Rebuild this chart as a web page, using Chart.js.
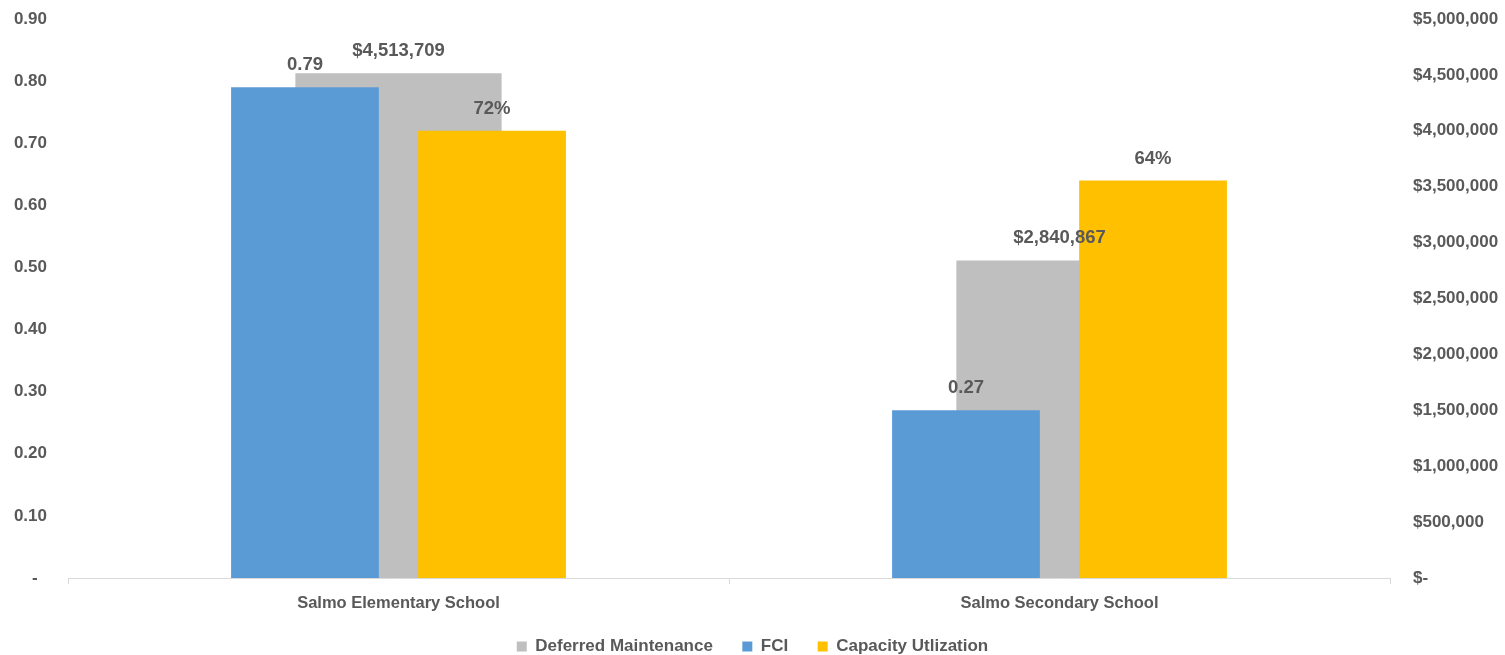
<html lang="en">
<head>
  <meta charset="UTF-8" />
  <title>Salmo Schools - FCI, Deferred Maintenance, Capacity</title>
  <script src="https://cdn.jsdelivr.net/npm/chart.js"></script>
  <style>
    html, body { margin: 0; padding: 0; background: #ffffff; }
    .wrap { width: 1505px; height: 655px; }
  </style>
</head>
<body>
<div class="wrap"><canvas id="chart" width="1505" height="655"></canvas></div>

<script>
  const schools = ['Salmo Elementary School', 'Salmo Secondary School'];
  const deferredMaintenance = [4513709, 2840867];
  const fci = [0.79, 0.27];
  const capacityUtilization = [0.72, 0.64];

  const textColor = '#595959';
  const fontFamily = '"Liberation Sans", Arial, sans-serif';

  const money = v => '$' + Math.round(v).toLocaleString('en-US');

  // labels above every bar, drawn on top of all bars
  const valueLabels = {
    id: 'valueLabels',
    afterDatasetsDraw(chart) {
      const ctx = chart.ctx;
      ctx.save();
      ctx.font = 'bold 18.5px ' + fontFamily;
      ctx.fillStyle = textColor;
      ctx.textAlign = 'center';
      ctx.textBaseline = 'middle';
      chart.data.datasets.forEach((ds, i) => {
        chart.getDatasetMeta(i).data.forEach((bar, j) => {
          ctx.fillText(ds.fmt(ds.data[j]), bar.x, bar.y - 22);
        });
      });
      ctx.restore();
    }
  };

  // vertical axes: fixed width, no extra top/bottom padding from tick padding
  const fitY = width => s => {
    s.width = width;
    s.paddingTop = 0;
    s.paddingBottom = 0;
  };

  new Chart(document.getElementById('chart'), {
    type: 'bar',
    data: {
      labels: schools,
      datasets: [
        {
          label: 'Deferred Maintenance',
          data: deferredMaintenance,
          backgroundColor: '#BFBFBF',
          yAxisID: 'y2',
          order: 1,
          grouped: false,
          categoryPercentage: 1,
          barPercentage: 0.312,
          fmt: money
        },
        {
          label: 'FCI',
          data: fci,
          backgroundColor: '#5B9BD5',
          yAxisID: 'y',
          order: 0,
          categoryPercentage: 0.566,
          barPercentage: 0.79,
          fmt: v => v.toFixed(2)
        },
        {
          label: 'Capacity Utlization',
          data: capacityUtilization,
          backgroundColor: '#FFC000',
          yAxisID: 'y',
          order: 0,
          categoryPercentage: 0.566,
          barPercentage: 0.79,
          fmt: v => Math.round(v * 100) + '%'
        }
      ]
    },
    options: {
      responsive: false,
      animation: false,
      layout: { padding: { top: 19, bottom: -10, left: 0, right: 0 } },
      plugins: {
        tooltip: { enabled: false },
        legend: {
          position: 'bottom',
          labels: {
            color: textColor,
            font: { family: fontFamily, size: 17, weight: 'bold' },
            boxWidth: 10,
            boxHeight: 10,
            padding: 20,
            generateLabels: chart => {
              const items = Chart.defaults.plugins.legend.labels.generateLabels(chart);
              items.sort((a, b) => a.datasetIndex - b.datasetIndex);
              items.forEach((it, k) => { if (k < items.length - 1) it.text += '  '; });
              return items;
            }
          }
        }
      },
      scales: {
        x: {
          offset: true,
          grid: { display: true, drawOnChartArea: false, drawTicks: true, tickLength: 6, color: '#d9d9d9', offset: true },
          border: { display: true, color: '#d9d9d9' },
          ticks: { color: textColor, font: { family: fontFamily, size: 16.5, weight: 'bold' }, padding: 10 },
          afterFit: s => { s.height = 40; }
        },
        y: {
          position: 'left',
          min: 0,
          max: 0.9,
          grid: { display: false, drawTicks: false },
          border: { display: false },
          ticks: {
            stepSize: 0.1,
            color: textColor,
            font: { family: fontFamily, size: 17, weight: 'bold' },
            padding: 21,
            callback: v => v === 0 ? '-  ' : v.toFixed(2)
          },
          afterFit: fitY(68)
        },
        y2: {
          position: 'right',
          min: 0,
          max: 5000000,
          grid: { display: false, drawTicks: false },
          border: { display: false },
          ticks: {
            stepSize: 500000,
            color: textColor,
            font: { family: fontFamily, size: 17, weight: 'bold' },
            padding: 23,
            callback: v => v === 0 ? '$-' : money(v)
          },
          afterFit: fitY(115)
        }
      }
    },
    plugins: [valueLabels]
  });
</script>
</body>
</html>
